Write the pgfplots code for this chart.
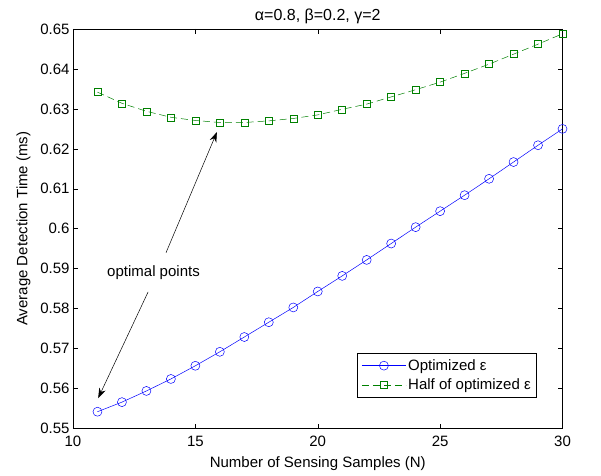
\documentclass[border=0pt]{standalone}
\usepackage{fontspec}
\setmainfont{Liberation Sans}
\usepackage{pgfplots}
\pgfplotsset{compat=1.18}
\usetikzlibrary{arrows.meta}
\definecolor{mgreen}{rgb}{0,0.5,0}
\begin{document}
\begin{tikzpicture}
\begin{axis}[
  scale only axis,
  width=489.5bp, height=399.5bp,
  xmin=10, xmax=30, ymin=0.55, ymax=0.65,
  xtick={10,15,...,30},
  ytick={0.55,0.56,0.57,0.58,0.59,0.6,0.61,0.62,0.63,0.64,0.65},
  yticklabel style={/pgf/number format/fixed,/pgf/number format/precision=2},
  /pgf/number format/assume math mode=true,
  tick align=inside,
  major tick length=5bp,
  tick style={black, line width=0.5pt},
  axis line style={line width=0.7pt},
  tick label style={font=\fontsize{15bp}{18bp}\selectfont},
  xticklabel style={yshift=-4bp},
  label style={font=\fontsize{15bp}{18bp}\selectfont},
  xlabel style={yshift=-3bp},
  ylabel style={yshift=3bp},
  xlabel={Number of Sensing Samples (N)},
  ylabel={Average Detection Time (ms)},
  title={\fontsize{16bp}{18bp}\selectfont α=0.8, β=0.2, γ=2},
  title style={yshift=-4bp},
  legend style={at={(0.948,0.0776)}, anchor=south east, draw=black, line width=0.6pt,
    font=\fontsize{15bp}{18bp}\selectfont, row sep=3bp, inner xsep=4bp, inner ysep=4bp,
    nodes={inner sep=2bp}},
  legend cell align=left,
  legend image code/.code={\draw[#1] (0bp,0bp) -- (44bp,0bp); \draw[#1, solid] plot coordinates {(22bp,0bp)};},
]
\addplot[blue, line width=0.5pt, mark=o, mark size=4.5bp, mark options={solid}] coordinates {
(11,0.5542) (12,0.5566) (13,0.5594) (14,0.5624) (15,0.5657) (16,0.5692) (17,0.5729)
(18,0.5766) (19,0.5803) (20,0.5843) (21,0.5882) (22,0.5922) (23,0.5963) (24,0.6004)
(25,0.6044) (26,0.6084) (27,0.6125) (28,0.6167) (29,0.6209) (30,0.6250)};
\addlegendentry{Optimized ε}
\addplot[mgreen, line width=0.5pt, dash pattern=on 7bp off 4bp, mark=square, mark size=3.5bp, mark options={solid}] coordinates {
(11,0.6342) (12,0.6314) (13,0.6294) (14,0.6279) (15,0.6271) (16,0.6266) (17,0.6266)
(18,0.6270) (19,0.6276) (20,0.6285) (21,0.6299) (22,0.6312) (23,0.6330) (24,0.6348)
(25,0.6367) (26,0.6389) (27,0.6412) (28,0.6437) (29,0.6462) (30,0.6488)};
\addlegendentry{Half of optimized ε}
\node[font=\fontsize{15bp}{18bp}\selectfont] at (axis cs:13.29,0.5891) {optimal points};
\draw[-{Stealth[length=10bp,width=7bp]}, line width=0.5pt] (axis cs:13.80,0.5940) -- (axis cs:15.88,0.6242);
\draw[-{Stealth[length=10bp,width=7bp]}, line width=0.5pt] (axis cs:13.07,0.5842) -- (axis cs:11.03,0.5576);
\end{axis}
\path[use as bounding box] ([xshift=-73bp,yshift=-47.5bp]current axis.south west) rectangle ([xshift=38.5bp,yshift=29bp]current axis.north east);
\end{tikzpicture}
\end{document}
